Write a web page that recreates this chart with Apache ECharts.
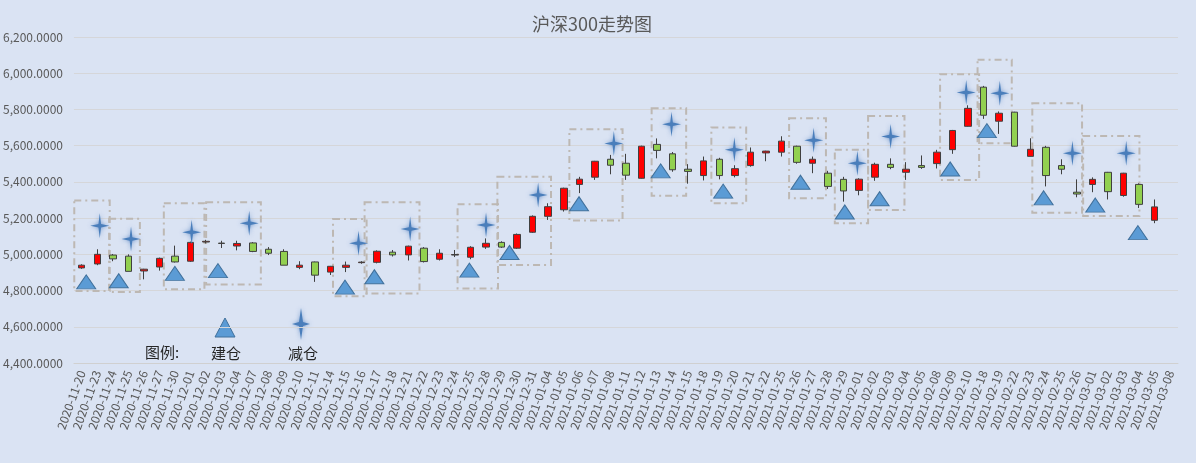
<!DOCTYPE html>
<html>
<head>
<meta charset="utf-8">
<script src="https://cdn.jsdelivr.net/npm/echarts@6/dist/echarts.min.js"></script>
<style>
  html, body { margin: 0; padding: 0; background: #DAE3F3; }
  #box { width: 1196px; height: 463px; }
</style>
</head>
<body>
<div id="box"></div>
<script>
var dates = ['2020-11-20', '2020-11-23', '2020-11-24', '2020-11-25', '2020-11-26', '2020-11-27', '2020-11-30',
  '2020-12-01', '2020-12-02', '2020-12-03', '2020-12-04', '2020-12-07', '2020-12-08', '2020-12-09', '2020-12-10', '2020-12-11',
  '2020-12-14', '2020-12-15', '2020-12-16', '2020-12-17', '2020-12-18', '2020-12-21', '2020-12-22', '2020-12-23', '2020-12-24',
  '2020-12-25', '2020-12-28', '2020-12-29', '2020-12-30', '2020-12-31', '2021-01-04', '2021-01-05', '2021-01-06', '2021-01-07',
  '2021-01-08', '2021-01-11', '2021-01-12', '2021-01-13', '2021-01-14', '2021-01-15', '2021-01-18', '2021-01-19', '2021-01-20',
  '2021-01-21', '2021-01-22', '2021-01-25', '2021-01-26', '2021-01-27', '2021-01-28', '2021-01-29', '2021-02-01', '2021-02-02',
  '2021-02-03', '2021-02-04', '2021-02-05', '2021-02-08', '2021-02-09', '2021-02-10', '2021-02-18', '2021-02-19', '2021-02-22',
  '2021-02-23', '2021-02-24', '2021-02-25', '2021-02-26', '2021-03-01', '2021-03-02', '2021-03-03', '2021-03-04', '2021-03-05',
  '2021-03-08'];

// 开盘 / 收盘 / 最低 / 最高 (last day has no candle)
var opens = [4925, 4947, 4996, 4990, 4908, 4930, 4990, 4962, 5068, 5062, 5046, 5063, 5028, 5016, 4928, 4958, 4902, 4928, 4954, 4956,
  5012, 4997, 5034, 4973, 4996, 4984, 5040, 5066, 5034, 5122, 5210, 5246, 5386, 5426, 5525, 5503, 5420, 5607, 5555, 5470,
  5435, 5525, 5435, 5490, 5560, 5564, 5597, 5503, 5448, 5414, 5353, 5426, 5497, 5453, 5490, 5501, 5578, 5707, 5923, 5735,
  5785, 5541, 5591, 5490, 5343, 5386, 5453, 5325, 5386, 5188];
var closes = [4940, 5000, 4975, 4906, 4918, 4978, 4958, 5066, 5072, 5060, 5060, 5016, 5006, 4940, 4940, 4885, 4934, 4940, 4957, 5017,
  4997, 5045, 4960, 5006, 4999, 5039, 5061, 5040, 5110, 5210, 5263, 5365, 5415, 5514, 5492, 5437, 5597, 5574, 5467, 5458,
  5516, 5435, 5473, 5564, 5570, 5625, 5508, 5525, 5375, 5350, 5415, 5497, 5480, 5470, 5480, 5564, 5684, 5806, 5768, 5779,
  5597, 5580, 5435, 5470, 5333, 5414, 5346, 5448, 5276, 5262];
var lows = [4920, 4940, 4962, 4906, 4862, 4910, 4955, 4958, 5060, 5035, 5022, 5012, 4996, 4940, 4918, 4848, 4886, 4902, 4948, 4950,
  4988, 4966, 4955, 4966, 4985, 4973, 5030, 5035, 5030, 5118, 5190, 5236, 5338, 5411, 5442, 5411, 5418, 5530, 5456, 5390,
  5408, 5414, 5425, 5484, 5514, 5540, 5500, 5448, 5361, 5291, 5326, 5406, 5470, 5411, 5472, 5474, 5555, 5705, 5748, 5665,
  5595, 5540, 5375, 5442, 5315, 5343, 5303, 5318, 5256, 5172];
var highs = [4945, 5028, 5002, 5000, 4920, 4982, 5048, 5070, 5080, 5075, 5075, 5068, 5040, 5028, 4962, 4960, 4936, 4960, 4962, 5022,
  5024, 5048, 5040, 5028, 5024, 5045, 5088, 5072, 5115, 5215, 5282, 5368, 5428, 5516, 5549, 5555, 5600, 5640, 5565, 5498,
  5540, 5533, 5492, 5590, 5572, 5652, 5600, 5540, 5461, 5428, 5420, 5506, 5530, 5509, 5546, 5577, 5687, 5823, 5930, 5789,
  5787, 5641, 5599, 5525, 5414, 5425, 5455, 5450, 5392, 5303];

// 建仓 / 减仓 markers: [position in day slots, price]
var buildPoints = [[0.79, 4848], [2.88, 4854], [6.49, 4895], [9.26, 4910], [17.43, 4819], [19.32, 4876], [25.43, 4913],
  [28.01, 5010], [32.48, 5279], [37.73, 5461], [41.75, 5349], [46.72, 5398], [49.57, 5234], [51.81, 5307], [56.35, 5471],
  [58.71, 5683], [62.36, 5312], [65.68, 5272], [68.42, 5120]];
var sellPoints = [[1.66, 5158], [3.67, 5085], [7.57, 5122], [11.27, 5172], [18.3, 5061], [21.62, 5140], [26.5, 5162],
  [29.85, 5328], [34.72, 5612], [38.43, 5718], [42.47, 5578], [47.57, 5630], [50.38, 5503], [52.52, 5650], [57.38, 5893],
  [59.54, 5890], [64.21, 5558], [67.67, 5558]];

// 框选区间: [start slot, end slot, low, high]
var boxes = [[0.02, 2.3, 4798, 5297], [2.26, 4.24, 4792, 5196], [5.78, 8.39, 4807, 5282], [8.5, 12.02, 4834, 5287],
  [16.66, 18.82, 4768, 5195], [18.69, 22.22, 4784, 5287], [24.67, 27.27, 4812, 5276], [27.23, 30.68, 4941, 5429],
  [31.86, 35.28, 5187, 5691], [37.15, 39.37, 5324, 5807], [40.99, 43.23, 5282, 5700], [45.99, 48.36, 5310, 5752],
  [48.93, 51.07, 5171, 5577], [51.07, 53.41, 5245, 5764], [55.7, 58.21, 5411, 5995], [58.11, 60.31, 5613, 6074],
  [61.63, 64.83, 5230, 5834], [64.9, 68.52, 5212, 5654]];

var yMin = 4400, yMax = 6200, yStep = 200;

var candles = dates.map(function (d, i) {
  if (opens[i] === undefined) return '-';
  return [opens[i], closes[i], lows[i], highs[i]];
});

var areaData = boxes.map(function (b) {
  return [{ coord: [b[0], b[3]] }, { coord: [b[1], b[2]] }];
});

var starPath = 'path://M50,0 L57,43 L100,50 L57,57 L50,100 L43,57 L0,50 L43,43 Z';
var font = "'Noto Sans CJK SC', 'Liberation Sans', sans-serif";

var myChart = echarts.init(document.getElementById('box'));
var option = {
  backgroundColor: '#DAE3F3',
  animation: false,
  textStyle: { fontFamily: font },
  title: {
    text: '沪深300走势图',
    left: 527,
    top: 10,
    textStyle: { fontSize: 18, fontWeight: 'normal', color: '#595959', fontFamily: font }
  },
  grid: { left: 69, right: 18, top: 37, bottom: 100 },
  xAxis: [{
    type: 'category',
    data: dates,
    axisLine: { lineStyle: { color: '#D0D0D0' } },
    axisTick: { length: 5, lineStyle: { color: '#D0D0D0' } },
    axisLabel: { interval: 0, rotate: 70, fontSize: 12, color: '#595959', margin: 8 }
  }, {
    type: 'value',
    min: 0,
    max: dates.length,
    show: false
  }],
  yAxis: {
    type: 'value',
    min: yMin,
    max: yMax,
    interval: yStep,
    axisLine: { show: false },
    axisTick: { show: false },
    splitLine: { lineStyle: { color: '#D5D6D9' } },
    axisLabel: {
      fontSize: 12,
      color: '#595959',
      margin: 11,
      formatter: function (v) {
        return v.toLocaleString('en-US', { minimumFractionDigits: 4, maximumFractionDigits: 4 });
      }
    }
  },
  series: [{
    name: '沪深300',
    type: 'candlestick',
    data: candles,
    barWidth: 7,
    itemStyle: {
      color: '#FF0000',
      color0: '#92D050',
      borderColor: '#404040',
      borderColor0: '#404040',
      borderWidth: 1
    }
  }, {
    name: '建仓',
    type: 'scatter',
    xAxisIndex: 1,
    data: buildPoints,
    symbol: 'triangle',
    symbolSize: [19, 14],
    itemStyle: { color: '#5B9BD5', borderColor: '#41719C', borderWidth: 1, opacity: 1 },
    markArea: {
      silent: true,
      itemStyle: {
        color: 'rgba(0,0,0,0)',
        borderColor: '#BDB8B3',
        borderWidth: 2,
        borderType: [7, 4, 2, 4]
      },
      data: areaData
    },
    z: 3
  }, {
    name: '减仓',
    type: 'scatter',
    xAxisIndex: 1,
    data: sellPoints,
    symbol: starPath,
    symbolSize: [19, 25],
    itemStyle: {
      color: '#4A7EBB',
      opacity: 1,
      shadowBlur: 4,
      shadowColor: 'rgba(70,120,190,0.7)'
    },
    z: 3
  }],
  graphic: [
    { type: 'text', left: 145, top: 345, style: { text: '图例:', fill: '#262626', font: '15px ' + font } },
    {
      type: 'polygon',
      shape: { points: [[215, 337], [235, 337], [225, 318]] },
      style: { fill: '#5B9BD5', stroke: '#41719C', lineWidth: 1, lineJoin: 'round' }
    },
    { type: 'text', left: 211, top: 346, style: { text: '建仓', fill: '#262626', font: '15px ' + font } },
    {
      type: 'polygon',
      shape: { points: [[301, 308], [303, 322], [310, 324], [303, 326], [301, 340], [299, 326], [292, 324], [299, 322]] },
      style: { fill: '#4A7EBB', shadowBlur: 4, shadowColor: 'rgba(70,120,190,0.7)' }
    },
    { type: 'text', left: 288, top: 346, style: { text: '减仓', fill: '#262626', font: '15px ' + font } }
  ]
};
myChart.setOption(option);
</script>
</body>
</html>
